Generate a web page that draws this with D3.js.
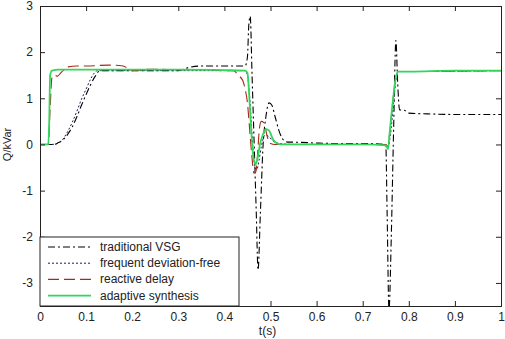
<!DOCTYPE html>
<html>
<head>
<meta charset="utf-8">
<script src="https://cdn.jsdelivr.net/npm/d3@7"></script>
<style>
  body { margin: 0; background: #fff; }
  text { font-family: "Liberation Sans", Arial, sans-serif; }
</style>
</head>
<body>
<div id="chart"></div>
<script>
// x ticks / y ticks
const xTicks = [0, 0.1, 0.2, 0.3, 0.4, 0.5, 0.6, 0.7, 0.8, 0.9, 1];
const yTicks = [-3, -2, -1, 0, 1, 2, 3];

// traditional VSG (dash-dot, black)
const vsgT = [0,0.03,0.04,0.05,0.06,0.07,0.08,0.09,0.1,0.11,0.12,0.13,0.15,0.2,0.25,0.3,0.32,0.35,0.4,0.445,0.45,0.453,0.456,0.46,0.465,0.469,0.473,0.478,0.484,0.49,0.497,0.503,0.51,0.52,0.53,0.54,0.55,0.6,0.65,0.7,0.75,0.753,0.757,0.762,0.767,0.772,0.776,0.78,0.79,0.8,0.85,0.9,1];
const vsgV = [0,0,0.04,0.1,0.22,0.38,0.6,0.85,1.08,1.3,1.48,1.6,1.6,1.6,1.6,1.6,1.66,1.7,1.7,1.7,1.9,2.6,2.78,1.5,-0.13,-1.43,-2.72,-1.5,0,0.6,0.9,0.85,0.6,0.25,0.08,0.05,0.05,0.03,0.02,0.02,0,-1.5,-3.6,-2.0,0.3,2.25,1.3,0.75,0.74,0.68,0.66,0.65,0.65];

// frequent deviation-free (dotted, navy)
const freqT = [0,0.025,0.04,0.05,0.06,0.07,0.08,0.09,0.1,0.11,0.118,0.125,0.15,0.2,0.3,0.4,0.445,0.45,0.455,0.46,0.465,0.47,0.475,0.48,0.488,0.495,0.505,0.52,0.55,0.75,0.755,0.76,0.767,0.773,0.778,0.8,1];
const freqV = [0,0,0.03,0.12,0.28,0.48,0.72,0.98,1.2,1.42,1.55,1.6,1.6,1.6,1.6,1.6,1.6,1.5,1.0,0.2,-0.4,-0.55,-0.35,-0.05,0.2,0.18,0.08,0.02,0,0,-0.05,0.2,0.9,1.45,1.58,1.58,1.6];

// reactive delay (long dash, dark red)
const delayT = [0,0.018,0.022,0.026,0.032,0.038,0.045,0.05,0.06,0.08,0.1,0.15,0.18,0.2,0.22,0.25,0.3,0.35,0.4,0.42,0.43,0.44,0.445,0.45,0.455,0.46,0.464,0.468,0.472,0.476,0.48,0.485,0.49,0.495,0.5,0.51,0.55,0.7,0.75,0.755,0.758,0.765,0.772,0.777,0.8,1];
const delayV = [0,0,0.8,1.45,1.5,1.48,1.55,1.6,1.68,1.7,1.7,1.72,1.7,1.6,1.62,1.63,1.62,1.62,1.6,1.6,1.5,1.38,1.2,0.9,0.3,-0.3,-0.62,-0.6,-0.2,0.35,0.5,0.48,0.3,0.1,0.02,0,0,0,0,-0.05,0.2,0.9,1.45,1.58,1.58,1.6];

// adaptive synthesis (solid, green)
const adaptT = [0,0.018,0.02,0.022,0.026,0.04,0.1,0.2,0.3,0.4,0.445,0.45,0.453,0.457,0.461,0.465,0.468,0.472,0.477,0.483,0.49,0.497,0.505,0.515,0.53,0.6,0.7,0.75,0.755,0.758,0.765,0.772,0.777,0.8,0.9,1];
const adaptV = [0,0,0.5,1.5,1.6,1.62,1.62,1.62,1.62,1.61,1.6,1.55,1.2,0.5,-0.1,-0.38,-0.43,-0.3,0,0.2,0.33,0.3,0.12,0.02,0,0,0,-0.02,-0.1,0.2,0.9,1.45,1.58,1.58,1.6,1.6];

const seriesNames = ['traditional VSG', 'frequent deviation-free', 'reactive delay', 'adaptive synthesis'];

const width = 505, height = 339;
const margin = {left: 40, right: 4, top: 6, bottom: 33};

const svg = d3.select('#chart').append('svg')
    .attr('width', width)
    .attr('height', height);

const x = d3.scaleLinear().domain([0, 1]).range([margin.left, width - margin.right]);
const y = d3.scaleLinear().domain([-3.5, 3]).range([height - margin.bottom, margin.top]);

svg.append('clipPath').attr('id', 'plotclip')
    .append('rect')
    .attr('x', x(0)).attr('y', y(3))
    .attr('width', x(1) - x(0)).attr('height', y(-3.5) - y(3));

const series = [
    {name: seriesNames[0], t: vsgT, v: vsgV, color: '#000000', dash: '7,3,2,3', w: 1.1},
    {name: seriesNames[1], t: freqT, v: freqV, color: '#1c1c5a', dash: '2,2', w: 1},
    {name: seriesNames[2], t: delayT, v: delayV, color: '#a8281c', dash: '11,5', w: 1.1},
    {name: seriesNames[3], t: adaptT, v: adaptV, color: '#33d65a', dash: null, w: 1.8}
];

const line = d3.line()
    .curve(d3.curveMonotoneX)
    .x(d => x(d[0]))
    .y(d => y(d[1]));

const plot = svg.append('g').attr('clip-path', 'url(#plotclip)');
series.forEach(s => {
    plot.append('path')
        .attr('d', line(d3.zip(s.t, s.v)))
        .attr('fill', 'none')
        .attr('stroke', s.color)
        .attr('stroke-width', s.w)
        .attr('stroke-dasharray', s.dash);
});

// axes, matlab style ticks pointing inward
const fmt = d => String(d);
svg.append('g')
    .attr('transform', 'translate(0,' + y(-3.5) + ')')
    .call(d3.axisBottom(x).tickValues(xTicks).tickFormat(fmt).tickSize(-5).tickPadding(6));
svg.append('g')
    .attr('transform', 'translate(0,' + y(3) + ')')
    .call(d3.axisTop(x).tickValues(xTicks).tickFormat('').tickSize(-5));
svg.append('g')
    .attr('transform', 'translate(' + x(0) + ',0)')
    .call(d3.axisLeft(y).tickValues(yTicks).tickFormat(fmt).tickSize(-5).tickPadding(7));
svg.append('g')
    .attr('transform', 'translate(' + x(1) + ',0)')
    .call(d3.axisRight(y).tickValues(yTicks).tickFormat('').tickSize(-5));

svg.selectAll('.domain').attr('stroke', '#222');
svg.selectAll('.tick line').attr('stroke', '#222');
svg.selectAll('.tick text')
    .attr('font-size', 12)
    .attr('fill', '#222')
    .attr('font-family', '"Liberation Sans", Arial, sans-serif');

svg.append('text')
    .attr('x', x(0.5) - 3)
    .attr('y', height - 4)
    .attr('text-anchor', 'middle')
    .attr('font-size', 12)
    .attr('fill', '#222')
    .text('t(s)');

svg.append('text')
    .attr('transform', 'translate(11,' + y(0) + ') rotate(-90)')
    .attr('text-anchor', 'middle')
    .attr('font-size', 11)
    .attr('fill', '#222')
    .text('Q/kVar');

// legend
const lg = svg.append('g');
lg.append('rect')
    .attr('x', x(0)).attr('y', 237)
    .attr('width', 199).attr('height', y(-3.5) - 237)
    .attr('fill', '#fff')
    .attr('stroke', '#222');
series.forEach((s, i) => {
    const ly = 247 + i * 16.2;
    lg.append('line')
        .attr('x1', x(0) + 8).attr('x2', x(0) + 51)
        .attr('y1', ly).attr('y2', ly)
        .attr('stroke', s.color)
        .attr('stroke-width', s.w)
        .attr('stroke-dasharray', s.dash);
    lg.append('text')
        .attr('x', x(0) + 60)
        .attr('y', ly + 4)
        .attr('font-size', 12)
        .attr('fill', '#222')
        .text(s.name);
});
</script>
</body>
</html>
